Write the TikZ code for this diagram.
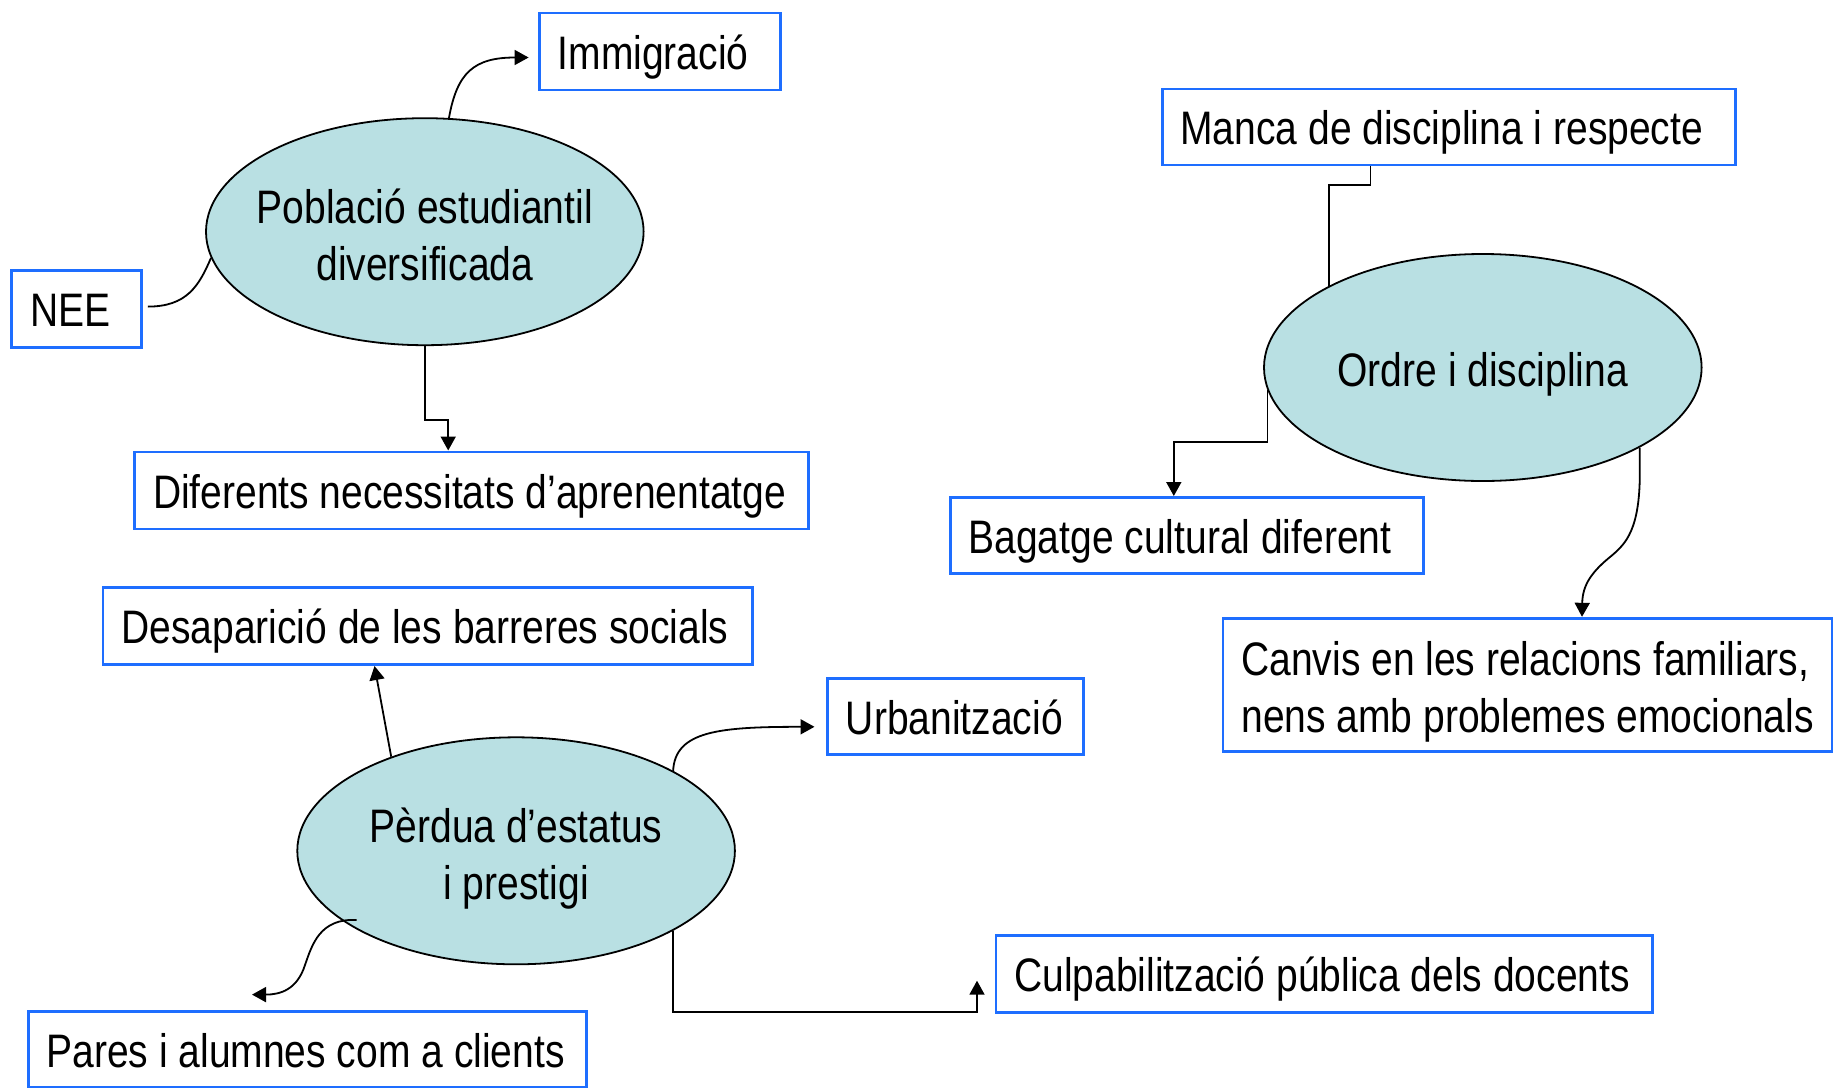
\documentclass[tikz,border=0pt]{standalone}
\usepackage{fontspec}
\setmainfont{Liberation Sans}[FakeStretch=0.83]
\usetikzlibrary{shapes.geometric,arrows.meta,calc}
\definecolor{boxblue}{RGB}{30,110,255}
\definecolor{ellfill}{RGB}{185,224,227}
\begin{document}
\begin{tikzpicture}[x=1pt,y=-1pt,
  every node/.style={font=\fontsize{47}{57}\selectfont},
  box/.style={draw=boxblue, line width=2.8pt, inner sep=0pt, fill=white},
  lab/.style={anchor=west, xshift=19.5pt, inner sep=0pt, text height=35.7pt, text depth=0pt},
  ell/.style={ellipse, draw=black, fill=ellfill, line width=1.8pt, inner sep=0pt,
    minimum width=437.6pt, minimum height=227pt},
  conn/.style={draw=black, line width=1.8pt},
  arr/.style={conn, -{Triangle[length=14pt,width=15pt]}}]
\useasboundingbox (0,0) rectangle (1835,1087);

% boxes
\node[box, minimum width=241pt, minimum height=77pt, label={[lab]west:Immigració}] (imm) at (660,51.5) {};
\node[box, minimum width=130pt, minimum height=77pt, label={[lab]west:NEE}] (nee) at (76.7,309) {};
\node[box, minimum width=674pt, minimum height=77pt, label={[lab]west:Diferents necessitats d’aprenentatge}] (dif) at (471.7,490.4) {};
\node[box, minimum width=573.5pt, minimum height=76pt, label={[lab]west:Manca de disciplina i respecte}] (man) at (1448.9,127) {};
\node[box, minimum width=473pt, minimum height=76pt, label={[lab]west:Bagatge cultural diferent}] (bag) at (1186.7,535.4) {};
\node[box, minimum width=609pt, minimum height=133pt,
  label={[anchor=west, xshift=19.5pt, inner sep=0pt, align=left, yshift=-7pt]west:{Canvis en les relacions familiars,\\nens amb problemes emocionals}}] (can) at (1527.5,684.7) {};
\node[box, minimum width=649.5pt, minimum height=77pt, label={[lab]west:Desaparició de les barreres socials}] (des) at (427.8,626.1) {};
\node[box, minimum width=256pt, minimum height=76pt, label={[lab]west:Urbanització}] (urb) at (955.6,716.8) {};
\node[box, minimum width=656.6pt, minimum height=77pt, label={[lab]west:Culpabilització pública dels docents}] (cul) at (1324.2,973.7) {};
\node[box, minimum width=558pt, minimum height=76pt, label={[lab]west:Pares i alumnes com a clients}] (par) at (307.2,1049.5) {};

% ellipses
\node[ell, label={[align=center, yshift=-3pt]center:{Població estudiantil\\diversificada}}] (e1) at (424.8,231.7) {};
\node[ell, label={[align=center, yshift=-7pt]center:{Ordre i disciplina}}] (e2) at (1482.8,367.5) {};
\node[ell, label={[align=center, yshift=-7.5pt]center:{Pèrdua d’estatus\\i prestigi}}] (e3) at (516.1,850.8) {};

% named end points
\coordinate (immT) at ($(imm.west)+(-9.5,6)$);
\coordinate (b1) at ($(dif.north)+(-23.5,-30.4)$);
\coordinate (m1) at ($(man.south)+(-78.5,18.7)$);
\coordinate (b2) at ($(bag.north)+(-12.9,-53.9)$);
\coordinate (canT) at ($(can.north)+(54.5,0)$);
\coordinate (desT) at ($(des.south)+(-53.3,0)$);
\coordinate (urbT) at ($(urb.west)+(-11.7,10)$);
\coordinate (culT) at ($(cul.west)+(-17.5,7)$);
\coordinate (parS) at ($(e3.center)+(-159.4,69.2)$);
\coordinate (parT) at ($(par.north)+(-55.2,-15.5)$);

% connectors, top-left group
\draw[arr] (e1.78) .. controls +(8,-45) and +(-55,0) .. (immT);
\draw[conn] ($(nee.east)+(4.7,-2.4)$) .. controls +(39,0) and +(-12,28) .. (e1.187.5);
\draw[arr] (e1.south) |- (b1) -- (b1 |- dif.north);

% right group
\draw[conn] (m1 |- man.south) -- (m1) -| (e2.152.5);
\draw[arr] (e2.186) |- (b2) -- (b2 |- bag.north);
\draw[arr] (e2.-27.6) -- ++(0,25) .. controls +(0,57) and +(14,-12) .. ++(-28,83)
  .. controls +(-20,16) and +(0.5,-32) .. (canT);

% bottom group
\draw[arr] (e3.143) -- (desT);
\draw[arr] (e3.27.6) .. controls +(2,-40) and +(-95,0) .. (urbT);
\draw[arr] (e3.-27.6) |- ($(culT)+(0,31.6)$) -- (culT);
\draw[arr] (parS) .. controls +(-37,-2) and +(7,-20) .. ++(-51.7,45)
  .. controls +(-8,25) and +(28,0) .. (parT);
\end{tikzpicture}
\end{document}
